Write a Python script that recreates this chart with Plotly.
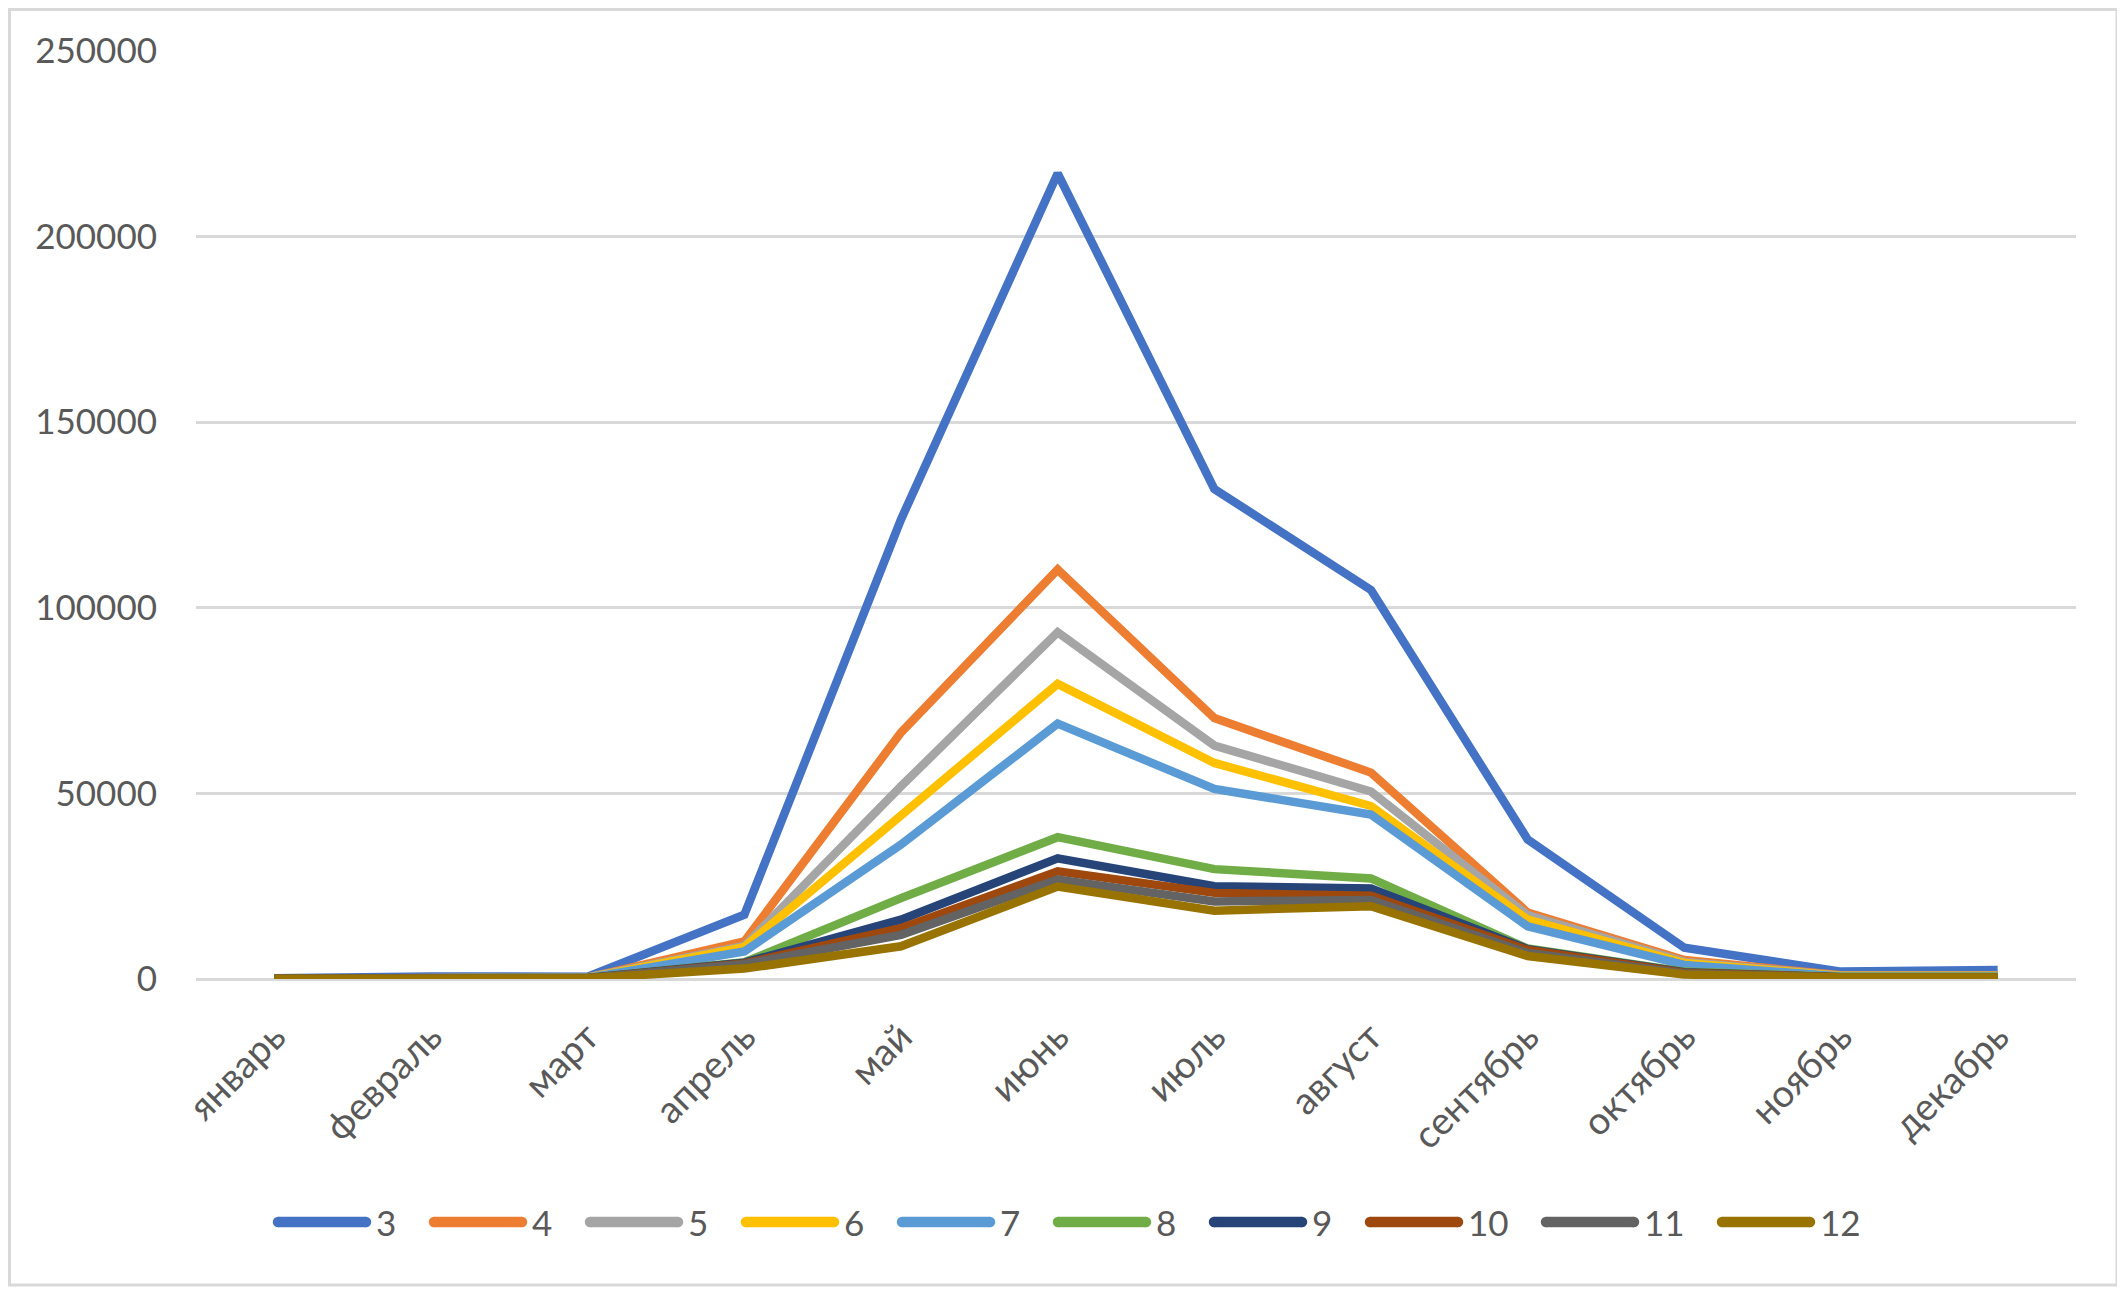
import plotly.graph_objs as go

# months (x categories)
months = ['январь', 'февраль', 'март', 'апрель', 'май', 'июнь',
          'июль', 'август', 'сентябрь', 'октябрь', 'ноябрь', 'декабрь']

# series values
s3 = [200, 700, 600, 17300, 123800, 217000, 132000, 104800, 37600, 8400, 2000, 2400]
s4 = [100, 500, 400, 10100, 66400, 110300, 70300, 55600, 17900, 5100, 1000, 1000]
s5 = [100, 400, 400, 8900, 51900, 93400, 62900, 50500, 17200, 4600, 900, 900]
s6 = [100, 400, 300, 8600, 43800, 79500, 58200, 46600, 16000, 4300, 800, 800]
s7 = [100, 300, 300, 7400, 36200, 68800, 51200, 44300, 14200, 3800, 700, 700]
s8 = [100, 300, 300, 4500, 21800, 38200, 29600, 27100, 8200, 2000, 600, 600]
s9 = [100, 300, 300, 4400, 16000, 32500, 25000, 24400, 8000, 1800, 500, 500]
s10 = [100, 200, 200, 4200, 13700, 29000, 23200, 22400, 7800, 1700, 500, 500]
s11 = [100, 200, 200, 4000, 11900, 26800, 20900, 21300, 7000, 1500, 400, 400]
s12 = [0, 200, 200, 2800, 8800, 24900, 18400, 19600, 6200, 1200, 400, 400]

names = ['3', '4', '5', '6', '7', '8', '9', '10', '11', '12']
series = [s3, s4, s5, s6, s7, s8, s9, s10, s11, s12]
colors = ['#4472C4', '#ED7D31', '#A5A5A5', '#FFC000', '#5B9BD5',
          '#70AD47', '#264478', '#9E480E', '#636363', '#997300']

y_ticks = [0, 50000, 100000, 150000, 200000, 250000]

# figure geometry (pixels inside the figure)
W, H = 2117, 1282
L, R, T, B = 188, 49, 43, 311
PW, PH = W - L - R, H - T - B


def px(x):
    return (x - L) / PW


def py(y):
    return (H - B - y) / PH


traces = []
for name, vals, col in zip(names, series, colors):
    traces.append(go.Scatter(x=months, y=vals, name=name, mode='lines',
                             line=dict(color=col, width=8.5),
                             showlegend=False))

fig = go.Figure(data=traces)

font_main = dict(family='Lato', size=35, color='#595959')
font_x = dict(family='Lato', size=38, color='#595959')

fig.update_layout(
    width=W, height=H,
    margin=dict(l=L, r=R, t=T, b=B),
    paper_bgcolor='white', plot_bgcolor='white',
    font=font_main,
    showlegend=False,
    xaxis=dict(type='category', range=[-0.5, 11.5], tickangle=-45,
               showgrid=False, showline=False, zeroline=False,
               ticks='', ticklabelstandoff=27, tickfont=font_x),
    yaxis=dict(range=[0, 250000], tickvals=y_ticks,
               tickformat='d', showgrid=True, gridcolor='#D9D9D9',
               gridwidth=2.5, zeroline=True, zerolinecolor='#D9D9D9',
               zerolinewidth=2.5, showline=False, ticks='',
               ticklabelstandoff=38, tickfont=font_main),
)

# legend drawn by hand: long thick line with rounded ends, then the label
leg_y = 1214
x_cur = 265
for name, col in zip(names, colors):
    lx0, lx1 = x_cur + 5, x_cur + 93
    fig.add_shape(type='line', xref='paper', yref='paper',
                  x0=px(lx0), x1=px(lx1), y0=py(leg_y), y1=py(leg_y),
                  line=dict(color=col, width=10.5))
    for cx in (lx0, lx1):
        fig.add_shape(type='circle', xref='paper', yref='paper',
                      xsizemode='pixel', ysizemode='pixel',
                      xanchor=px(cx), yanchor=py(leg_y),
                      x0=-5.25, x1=5.25, y0=-5.25, y1=5.25,
                      fillcolor=col, line=dict(width=0))
    fig.add_annotation(x=px(x_cur + 101), y=py(leg_y), xref='paper', yref='paper',
                       text=name, showarrow=False, xanchor='left', yanchor='middle',
                       font=font_main)
    x_cur += 156 if len(name) == 1 else 176

# light border around the whole chart area
fig.add_shape(type='rect', xref='paper', yref='paper',
              x0=px(1.5), x1=px(2109), y0=py(1277), y1=py(1.5),
              line=dict(color='#D9D9D9', width=3), layer='below')

fig.write_html("out.html")
